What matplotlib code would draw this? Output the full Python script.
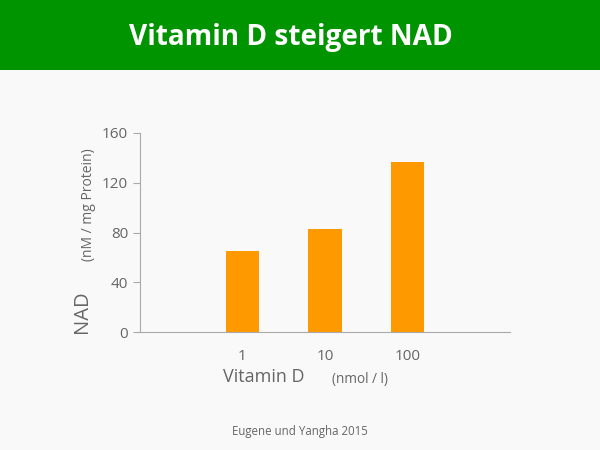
import numpy as np
import matplotlib
matplotlib.use('Agg')
import matplotlib.pyplot as plt
from matplotlib.patches import Rectangle

categories = ['1', '10', '100']
nad_values = [65, 83, 137]
y_ticks = [0, 40, 80, 120, 160]

plt.rcParams['font.family'] = ['Open Sans', 'DejaVu Sans']

bg = '#f9f9f9'
grey = '#666666'
fig = plt.figure(figsize=(6, 4.5), dpi=100, facecolor=bg)

# green title banner
fig.patches.append(Rectangle((0, 1 - 70 / 450), 1, 70 / 450, transform=fig.transFigure,
                             facecolor='#009400', edgecolor='none', zorder=0))
fig.text(291 / 600, 1 - 37 / 450, 'Vitamin D steigert NAD', color='white', fontsize=20.2,
         fontweight='bold', ha='center', va='center')

ax = fig.add_axes([140 / 600, 118 / 450, 370 / 600, 199 / 450])
ax.set_facecolor(bg)
x = np.arange(len(categories))
ax.bar(x, nad_values, width=0.4, color='#ff9900', zorder=2)
ax.set_xlim(-1.24, 3.24)
ax.set_ylim(0, 160)
ax.set_yticks(y_ticks)
ax.set_xticks(x)
ax.set_xticklabels(categories)
for s in ['top', 'right']:
    ax.spines[s].set_visible(False)
for s in ['left', 'bottom']:
    ax.spines[s].set_color('#aaaaaa')
ax.tick_params(axis='y', colors='#aaaaaa', labelcolor=grey, labelsize=11, length=5)
ax.tick_params(axis='x', length=0, labelcolor=grey, labelsize=11, pad=12)

fig.text(82 / 600, 1 - 312 / 450, 'NAD', rotation=90, color=grey, fontsize=14.5,
         ha='center', va='center')
fig.text(88 / 600, 1 - 205 / 450, '(nM / mg Protein)', rotation=90, color=grey, fontsize=10,
         ha='center', va='center')
fig.text(264 / 600, 1 - 377 / 450, 'Vitamin D', color=grey, fontsize=13,
         ha='center', va='center')
fig.text(360 / 600, 1 - 379 / 450, '(nmol / l)', color=grey, fontsize=9.8,
         ha='center', va='center')
fig.text(300 / 600, 1 - 432 / 450, 'Eugene und Yangha 2015', color=grey, fontsize=8.3,
         ha='center', va='center')

fig.savefig('out.png', dpi=100, facecolor=bg)
